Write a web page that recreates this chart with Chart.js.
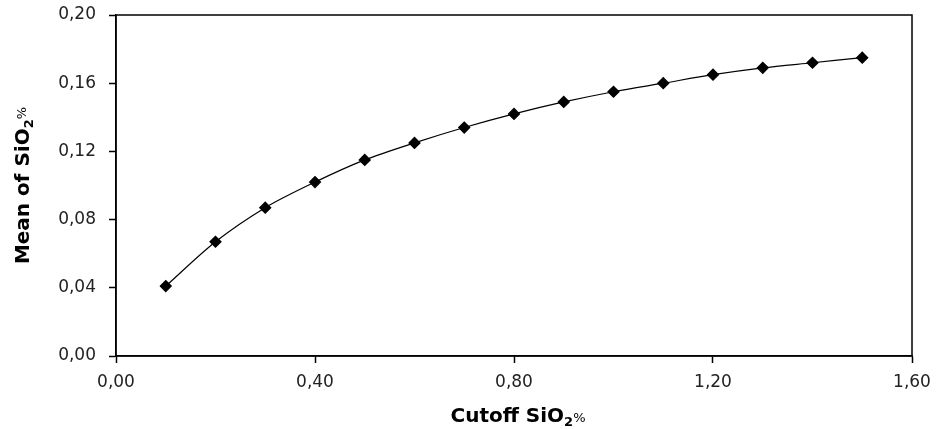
<!DOCTYPE html>
<html>
<head>
<meta charset="utf-8">
<script src="https://cdn.jsdelivr.net/npm/chart.js@4/dist/chart.umd.min.js"></script>
<style>
  html, body { margin: 0; padding: 0; background: #fff; }
  #wrap { width: 936px; height: 429px; position: relative; }
</style>
</head>
<body>
<div id="wrap"><canvas id="chart"></canvas></div>
<script>
// Données
const cutoffValues = [0.1, 0.2, 0.3, 0.4, 0.5, 0.6, 0.7, 0.8, 0.9, 1.0, 1.1, 1.2, 1.3, 1.4, 1.5];
const meanValues = [0.041, 0.067, 0.087, 0.102, 0.115, 0.125, 0.134, 0.142, 0.149, 0.155, 0.160, 0.165, 0.169, 0.172, 0.175];
const xTicks = [0, 0.4, 0.8, 1.2, 1.6];
const yTicks = [0, 0.04, 0.08, 0.12, 0.16, 0.2];

function fmt(v) {
    return Number(v).toFixed(2).replace('.', ',');
}

// Cadre complet autour de la zone du graphique
const boxPlugin = {
    id: 'box',
    afterDraw(chart) {
        const a = chart.chartArea;
        const ctx = chart.ctx;
        ctx.save();
        ctx.strokeStyle = '#000';
        ctx.lineWidth = 1.5;
        ctx.strokeRect(a.left, a.top, a.right - a.left, a.bottom - a.top);
        ctx.restore();
    }
};

// Titres des axes avec indice
const titlePlugin = {
    id: 'axisTitles',
    afterDraw(chart) {
        const ctx = chart.ctx;
        const a = chart.chartArea;
        ctx.save();
        ctx.fillStyle = '#000';
        ctx.textBaseline = 'alphabetic';

        function drawParts(parts, cx, cy) {
            let total = 0;
            parts.forEach(p => {
                ctx.font = p.font;
                p.w = ctx.measureText(p.text).width;
                total += p.w;
            });
            let x = cx - total / 2;
            parts.forEach(p => {
                ctx.font = p.font;
                ctx.fillText(p.text, x, cy + p.dy);
                x += p.w;
            });
        }

        const big = 'bold 20px "DejaVu Sans", sans-serif';
        const sub = 'bold 13px "DejaVu Sans", sans-serif';
        const small = '13px "DejaVu Sans", sans-serif';

        drawParts([
            { text: 'Cutoff SiO', font: big, dy: 0 },
            { text: '2', font: sub, dy: 4 },
            { text: '%', font: small, dy: 0 }
        ], (a.left + a.right) / 2 + 4, 422);

        ctx.translate(29, (a.top + a.bottom) / 2);
        ctx.rotate(-Math.PI / 2);
        drawParts([
            { text: 'Mean of SiO', font: big, dy: 0 },
            { text: '2', font: sub, dy: 4 },
            { text: '%', font: small, dy: -3 }
        ], 0, 0);
        ctx.restore();
    }
};

const points = cutoffValues.map((x, i) => ({ x: x, y: meanValues[i] }));

new Chart(document.getElementById('chart').getContext('2d'), {
    type: 'line',
    data: {
        datasets: [{
            data: points,
            borderColor: '#000',
            borderWidth: 1.2,
            backgroundColor: '#000',
            pointStyle: 'rectRot',
            pointRadius: 5.5,
            pointBackgroundColor: '#000',
            pointBorderColor: '#000',
            tension: 0.3,
            fill: false
        }]
    },
    options: {
        responsive: true,
        maintainAspectRatio: false,
        animation: false,
        layout: {
            padding: { top: 15, right: 24, left: 0, bottom: 0 }
        },
        plugins: {
            legend: { display: false },
            tooltip: { enabled: false }
        },
        scales: {
            x: {
                type: 'linear',
                min: 0,
                max: 1.6,
                afterBuildTicks: scale => { scale.ticks = xTicks.map(v => ({ value: v })); },
                afterFit: scale => {
                    scale.height = 73;
                    scale.paddingLeft = 0;
                    scale.paddingRight = 0;
                },
                border: { display: true, color: '#000', width: 1.5 },
                grid: {
                    drawOnChartArea: false,
                    drawTicks: true,
                    tickLength: 7,
                    tickColor: '#000',
                    tickWidth: 1.5
                },
                ticks: {
                    color: '#222',
                    padding: 9,
                    maxRotation: 0,
                    font: { family: '"DejaVu Sans", sans-serif', size: 17 },
                    callback: v => fmt(v)
                }
            },
            y: {
                type: 'linear',
                min: 0,
                max: 0.2,
                afterBuildTicks: scale => { scale.ticks = yTicks.map(v => ({ value: v })); },
                afterFit: scale => {
                    scale.width = 116;
                    scale.paddingTop = 0;
                    scale.paddingBottom = 0;
                },
                border: { display: true, color: '#000', width: 1.5 },
                grid: {
                    drawOnChartArea: false,
                    drawTicks: true,
                    tickLength: 7,
                    tickColor: '#000',
                    tickWidth: 1.5
                },
                ticks: {
                    color: '#222',
                    padding: 13,
                    font: { family: '"DejaVu Sans", sans-serif', size: 17 },
                    callback: v => fmt(v)
                }
            }
        }
    },
    plugins: [boxPlugin, titlePlugin]
});
</script>
</body>
</html>
